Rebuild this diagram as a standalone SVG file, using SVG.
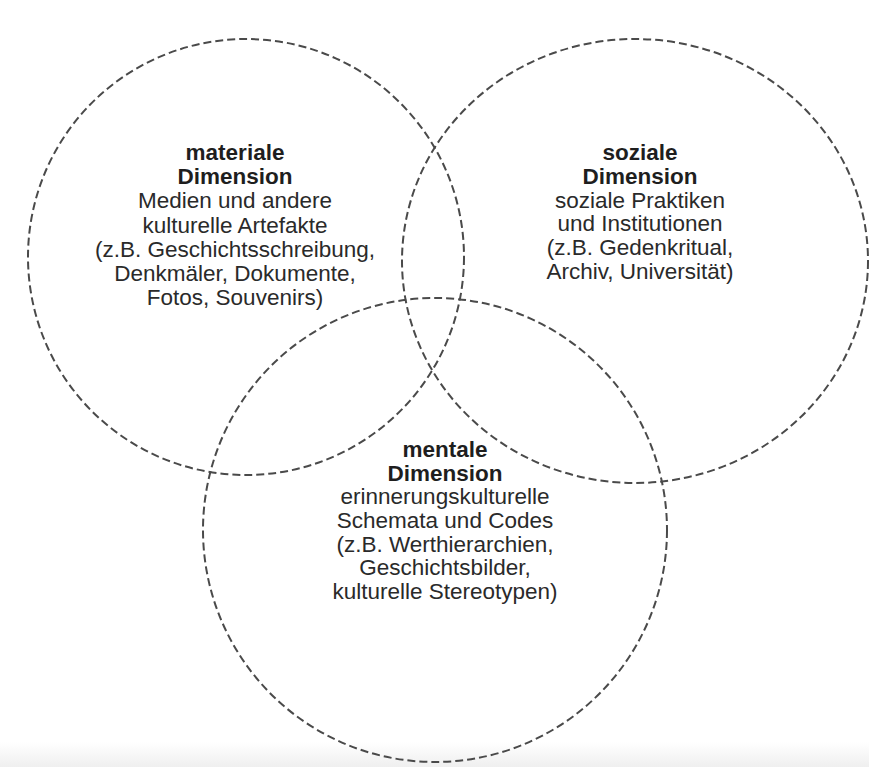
<svg xmlns="http://www.w3.org/2000/svg" width="869" height="767" viewBox="0 0 869 767">
<defs>
<linearGradient id="band" x1="0" y1="0" x2="0" y2="1">
<stop offset="0" stop-color="#ffffff"/>
<stop offset="1" stop-color="#efefef"/>
</linearGradient>
<style>
.c{fill:none;stroke:#4a4a4a;stroke-width:2;stroke-dasharray:8 4}
text{font-family:"Liberation Sans",Arial,sans-serif;font-size:22.5px;fill:#2a2a2a;text-anchor:middle}
.b{font-weight:bold;fill:#1e1e1e}
</style>
</defs>
<rect width="869" height="767" fill="#ffffff"/>
<rect x="0" y="742" width="869" height="25" fill="url(#band)"/>
<g id="materiale">
<circle class="c" cx="246" cy="257" r="218"/>
<text x="235" y="160" class="b">materiale</text>
<text x="235" y="184" class="b">Dimension</text>
<text x="235" y="208">Medien und andere</text>
<text x="235" y="233">kulturelle Artefakte</text>
<text x="235" y="257">(z.B. Geschichtsschreibung,</text>
<text x="235" y="281">Denkmäler, Dokumente,</text>
<text x="235" y="305">Fotos, Souvenirs)</text>
</g>
<g id="soziale">
<ellipse class="c" cx="635" cy="261" rx="233" ry="222"/>
<text x="640" y="160" class="b">soziale</text>
<text x="640" y="184" class="b">Dimension</text>
<text x="640" y="208">soziale Praktiken</text>
<text x="640" y="231">und Institutionen</text>
<text x="640" y="255">(z.B. Gedenkritual,</text>
<text x="640" y="279">Archiv, Universität)</text>
</g>
<g id="mentale">
<circle class="c" cx="435" cy="530" r="232"/>
<text x="445" y="457" class="b">mentale</text>
<text x="445" y="481" class="b">Dimension</text>
<text x="445" y="504">erinnerungskulturelle</text>
<text x="445" y="528">Schemata und Codes</text>
<text x="445" y="552">(z.B. Werthierarchien,</text>
<text x="445" y="575">Geschichtsbilder,</text>
<text x="445" y="599">kulturelle Stereotypen)</text>
</g>
<g id="connectors"/>
</svg>
